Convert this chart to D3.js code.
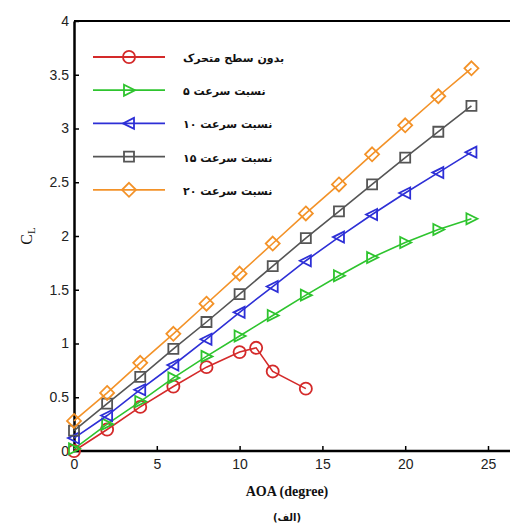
<!DOCTYPE html>
<html>
<head>
<meta charset="utf-8">
<script src="https://cdnjs.cloudflare.com/ajax/libs/d3/7.8.5/d3.min.js"></script>
<style>
  body { margin: 0; background: #fff; }
  svg { display: block; }
</style>
</head>
<body>
<div class="chart"></div>
<script>
// data
const aoa = [0, 2, 4, 6, 8, 10, 12, 14, 16, 18, 20, 22, 24];
const aoaNoSurface = [0, 2, 4, 6, 8, 10, 11, 12, 14];
const clNoSurface = [0, 0.2, 0.41, 0.6, 0.78, 0.92, 0.96, 0.74, 0.58];
const clRatio5 = [0.02, 0.25, 0.46, 0.68, 0.88, 1.07, 1.26, 1.45, 1.63, 1.8, 1.94, 2.06, 2.16];
const clRatio10 = [0.12, 0.33, 0.57, 0.8, 1.04, 1.29, 1.53, 1.77, 1.99, 2.2, 2.4, 2.59, 2.78];
const clRatio15 = [0.19, 0.44, 0.69, 0.95, 1.2, 1.46, 1.72, 1.98, 2.23, 2.48, 2.73, 2.97, 3.21];
const clRatio20 = [0.28, 0.54, 0.82, 1.09, 1.37, 1.65, 1.93, 2.21, 2.48, 2.76, 3.03, 3.3, 3.56];
const seriesNames = ['بدون سطح متحرک', 'نسبت سرعت ۵', 'نسبت سرعت ۱۰', 'نسبت سرعت ۱۵', 'نسبت سرعت ۲۰'];
const xTicks = [0, 5, 10, 15, 20, 25];
const yTicks = [0, 0.5, 1, 1.5, 2, 2.5, 3, 3.5, 4];

const series = [
  { name: seriesNames[0], x: aoaNoSurface, y: clNoSurface, color: '#d42a2a', marker: 'circle' },
  { name: seriesNames[1], x: aoa, y: clRatio5, color: '#2ec42e', marker: 'triRight' },
  { name: seriesNames[2], x: aoa, y: clRatio10, color: '#2d2fd6', marker: 'triLeft' },
  { name: seriesNames[3], x: aoa, y: clRatio15, color: '#555555', marker: 'square' },
  { name: seriesNames[4], x: aoa, y: clRatio20, color: '#f39228', marker: 'diamond' }
];

const width = 510;
const height = 525;
const margin = { top: 21, right: 0, bottom: 74, left: 74 };
const widthChart = width - margin.left - margin.right;
const heightChart = height - margin.top - margin.bottom;

const xScale = d3.scaleLinear().domain([0, 25]).range([0, 414]);
const yScale = d3.scaleLinear().domain([0, 4]).range([heightChart, 0]);

const svg = d3.select('.chart')
  .append('svg')
  .attr('width', width)
  .attr('height', height)
  .append('g')
  .attr('transform', `translate(${margin.left}, ${margin.top})`);

// marker paths
const markerPath = (type) => {
  if (type === 'circle') return d3.symbol().type(d3.symbolCircle).size(115)();
  if (type === 'square') return 'M-5,-5H5V5H-5Z';
  if (type === 'diamond') return 'M0,-7L7,0L0,7L-7,0Z';
  if (type === 'triRight') return 'M-5,-5.5L6,0L-5,5.5Z';
  if (type === 'triLeft') return 'M5,-5.5L-6,0L5,5.5Z';
};

// top frame line
svg.append('line')
  .attr('x1', 0).attr('x2', widthChart)
  .attr('y1', 0).attr('y2', 0)
  .attr('stroke', '#000').attr('stroke-width', 2);

// axes
const xAxis = d3.axisBottom(xScale)
  .tickValues(xTicks)
  .tickSizeInner(-5)
  .tickSizeOuter(0)
  .tickPadding(8);
const yAxis = d3.axisLeft(yScale)
  .tickValues(yTicks)
  .tickFormat(d3.format('~g'))
  .tickSizeInner(-5)
  .tickSizeOuter(0)
  .tickPadding(5);

const xAxisDraw = svg.append('g')
  .attr('transform', `translate(0,${heightChart})`)
  .call(xAxis);
xAxisDraw.select('.domain').attr('d', `M0,0H${widthChart}`);

const yAxisDraw = svg.append('g').call(yAxis);

[xAxisDraw, yAxisDraw].forEach(ax => {
  ax.select('.domain').attr('stroke', '#000').attr('stroke-width', 2.5);
  ax.selectAll('.tick line').attr('stroke', '#000').attr('stroke-width', 1.5);
  ax.selectAll('text')
    .style('font-family', '"Liberation Sans", Arial, sans-serif')
    .style('font-size', '14px')
    .attr('fill', '#222');
});

// lines and markers
const line = d3.line()
  .x(d => xScale(d[0]))
  .y(d => yScale(d[1]));

series.forEach(s => {
  const pts = s.x.map((x, i) => [x, s.y[i]]);
  svg.append('path')
    .datum(pts)
    .attr('fill', 'none')
    .attr('stroke', s.color)
    .attr('stroke-width', 1.6)
    .attr('d', line);
  svg.append('g')
    .selectAll('path')
    .data(pts)
    .enter()
    .append('path')
    .attr('transform', d => `translate(${xScale(d[0])},${yScale(d[1])})`)
    .attr('d', markerPath(s.marker))
    .attr('fill', 'none')
    .attr('stroke', s.color)
    .attr('stroke-width', 1.8);
});

// legend
const legend = svg.append('g')
  .attr('transform', 'translate(19, 36)');
series.forEach((s, i) => {
  const row = legend.append('g').attr('transform', `translate(0, ${i * 33.2})`);
  row.append('line')
    .attr('x1', 0).attr('x2', 72)
    .attr('stroke', s.color).attr('stroke-width', 1.8);
  row.append('path')
    .attr('transform', 'translate(36,0)')
    .attr('d', markerPath(s.marker))
    .attr('fill', 'none')
    .attr('stroke', s.color)
    .attr('stroke-width', 1.8);
  // rtl text: anchor "end" sits on the left edge
  row.append('text')
    .attr('x', 90)
    .attr('y', 5)
    .attr('direction', 'rtl')
    .attr('text-anchor', 'end')
    .style('font-family', '"DejaVu Sans", sans-serif')
    .style('font-weight', 'bold')
    .style('font-size', '11px')
    .attr('fill', '#111')
    .text(s.name);
});

// axis titles
const yTitle = svg.append('text')
  .attr('transform', `translate(-42, ${yScale(2)}) rotate(-90)`)
  .attr('text-anchor', 'middle')
  .style('font-family', '"Liberation Serif", serif')
  .style('font-size', '16px')
  .attr('fill', '#111');
yTitle.append('tspan').text('C');
yTitle.append('tspan').attr('dy', 3).style('font-size', '11px').text('L');

svg.append('text')
  .attr('x', 213)
  .attr('y', heightChart + 45)
  .attr('text-anchor', 'middle')
  .style('font-family', '"Liberation Serif", serif')
  .style('font-weight', 'bold')
  .style('font-size', '14px')
  .attr('fill', '#111')
  .text('AOA (degree)');

svg.append('text')
  .attr('x', 213)
  .attr('y', heightChart + 70)
  .attr('text-anchor', 'middle')
  .attr('direction', 'rtl')
  .style('font-family', '"DejaVu Sans", sans-serif')
  .style('font-weight', 'bold')
  .style('font-size', '10px')
  .attr('fill', '#111')
  .text('(الف)');
</script>
</body>
</html>
